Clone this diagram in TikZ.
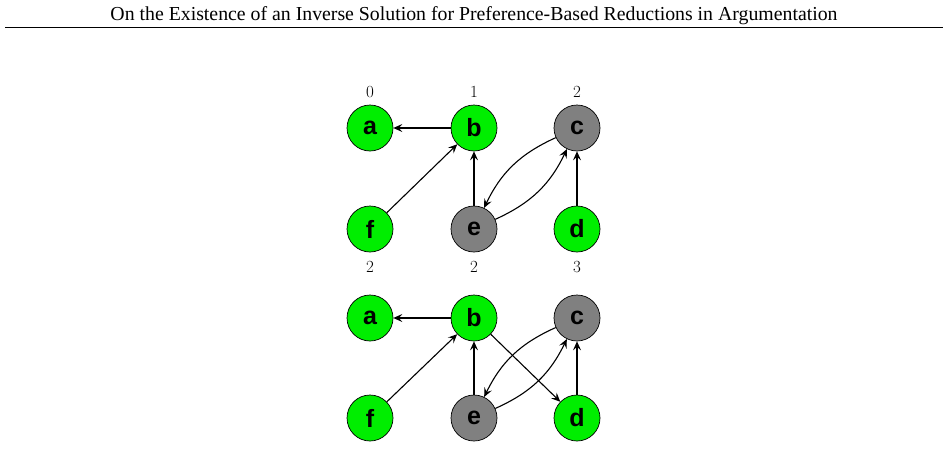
\documentclass[tikz,border=0pt]{standalone}
\usepackage{fontspec}
\setmainfont{Latin Modern Roman}
\newfontfamily\headfont{Liberation Serif}
\newfontfamily\nodefont{Liberation Sans}
\usetikzlibrary{arrows.meta}
\definecolor{argGreen}{RGB}{0,238,0}
\definecolor{argGray}{RGB}{128,128,128}
\tikzset{
  arg/.style={circle, draw=black, line width=0.7pt, minimum size=46pt, inner sep=0pt,
    font=\nodefont\bfseries\fontsize{25}{25}\selectfont},
  ing/.style={arg, fill=argGreen},
  outg/.style={arg, fill=argGray},
  lbl/.style={font=\fontsize{17}{17}\selectfont, inner sep=0pt},
  att/.style={-{Stealth[length=9pt,width=8pt,inset=3.5pt]}, line width=1.1pt},
}
\begin{document}
\begin{tikzpicture}[x=1pt,y=-1pt]
\useasboundingbox (0,0) rectangle (948,458);
\node[font=\headfont\fontsize{19.8}{19.8}\selectfont, anchor=base, inner sep=0pt] (head) at (474,20) {On the Existence of an Inverse Solution for Preference-Based Reductions in Argumentation};
\coordinate (rl) at (5,27);
\coordinate (rr) at (943,27);
\draw[line width=0.8pt] (rl) -- (rr);

% top graph
\node[ing] (a1) at (370,128) {a};
\node[ing] (b1) at (474,128) {b};
\node[outg] (c1) at (577,128) {c};
\node[ing] (f1) at (370,229) {f};
\node[outg] (e1) at (474,229) {e};
\node[ing] (d1) at (577,229) {d};
\node[lbl] (l1a) at (370,92) {0};
\node[lbl] (l1b) at (474,92) {1};
\node[lbl] (l1c) at (577,92) {2};
\draw[att] (b1) -- (a1);
\draw[att] (f1) -- (b1);
\draw[att] (e1) -- (b1);
\draw[att] (d1) -- (c1);
\draw[att] (c1) to[bend right=20] (e1);
\draw[att] (e1) to[bend right=20] (c1);

% bottom graph
\node[ing] (a2) at (370,318) {a};
\node[ing] (b2) at (474,318) {b};
\node[outg] (c2) at (577,318) {c};
\node[ing] (f2) at (370,418) {f};
\node[outg] (e2) at (474,418) {e};
\node[ing] (d2) at (577,418) {d};
\node[lbl] (l2a) at (370,267) {2};
\node[lbl] (l2b) at (474,267) {2};
\node[lbl] (l2c) at (577,267) {3};
\draw[att] (b2) -- (a2);
\draw[att] (f2) -- (b2);
\draw[att] (e2) -- (b2);
\draw[att] (d2) -- (c2);
\draw[att] (b2) -- (d2);
\draw[att] (c2) to[bend right=20] (e2);
\draw[att] (e2) to[bend right=20] (c2);
\end{tikzpicture}
\end{document}
